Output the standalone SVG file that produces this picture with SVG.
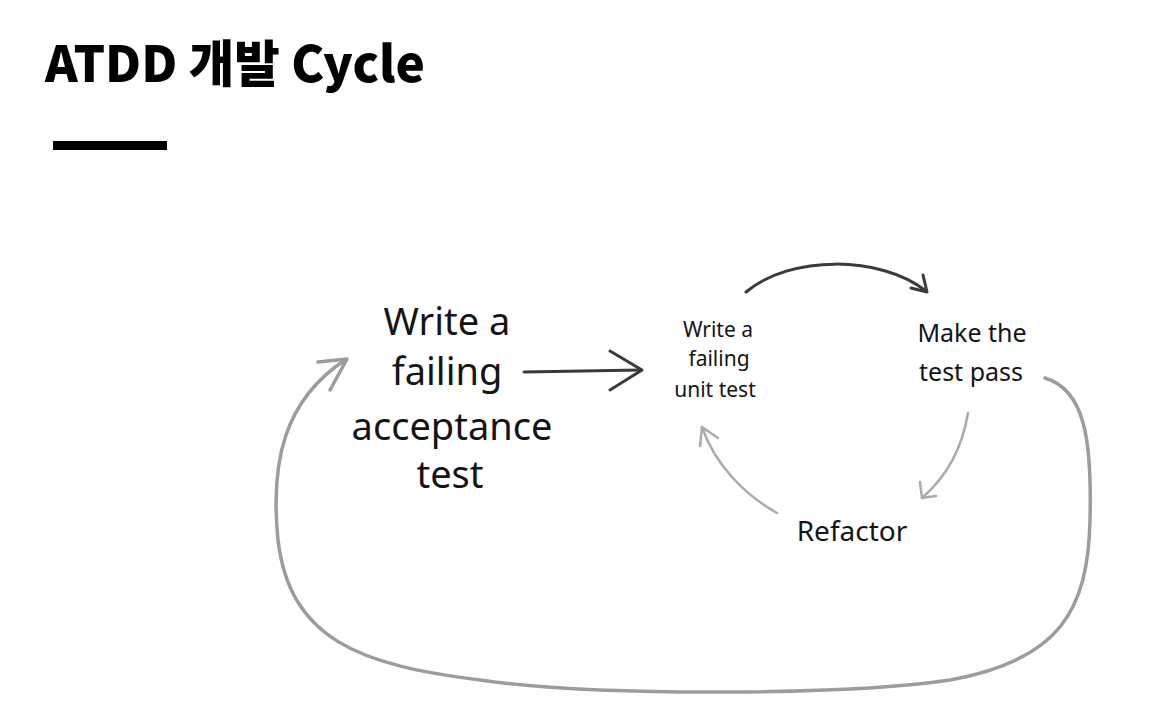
<svg xmlns="http://www.w3.org/2000/svg" width="1149" height="723" viewBox="0 0 1149 723">
<style>
.hand{font-family:"Noto Sans","Liberation Sans",sans-serif;fill:#141414;text-anchor:middle}
.title{font-family:"Noto Sans CJK KR","Noto Sans",sans-serif;font-weight:900;fill:#000}
.c{fill:none;stroke-linecap:round;stroke-linejoin:round}
.dark{stroke:#3a3a3a;stroke-width:3}
.light{stroke:#ababab;stroke-width:2.5}
.loop{stroke:#9c9c9c;stroke-width:3.5}
</style>
<rect width="1149" height="723" fill="#fff"/>
<g id="title">
<text class="title" x="45" y="82" font-size="50" textLength="380" lengthAdjust="spacingAndGlyphs">ATDD 개발 Cycle</text>
<rect x="53" y="141" width="114" height="9" fill="#000"/>
</g>
<g id="node-acceptance">
<text class="hand" x="447" y="335" font-size="38">Write a</text>
<text class="hand" x="447" y="385" font-size="38">failing</text>
<text class="hand" x="452" y="440" font-size="38">acceptance</text>
<text class="hand" x="450" y="488" font-size="38">test</text>
</g>
<g id="node-unit">
<text class="hand" x="718" y="337" font-size="21">Write a</text>
<text class="hand" x="719" y="366" font-size="21">failing</text>
<text class="hand" x="715" y="397" font-size="21">unit test</text>
</g>
<g id="node-pass">
<text class="hand" x="972" y="342" font-size="25">Make the</text>
<text class="hand" x="971" y="381" font-size="25">test pass</text>
</g>
<g id="node-refactor">
<text class="hand" x="852" y="541" font-size="28">Refactor</text>
</g>
<g id="connectors">
<path class="c dark" d="M524,372 L641,370"/>
<path class="c dark" d="M610,351 L642,370 L610,390"/>
<path class="c dark" stroke-width="2.5" d="M746,292 C790,255 880,255 926,291"/>
<path class="c dark" stroke-width="2.5" d="M911,288 L927,292 L923,275"/>
<path class="c light" d="M968,413 C962,450 945,478 922,498"/>
<path class="c light" d="M920,482 L922,498 L936,496"/>
<path class="c light" d="M777,513 C745,495 715,465 702,427"/>
<path class="c light" d="M700,446 L702,427 L718,438"/>
<path class="c loop" d="M1045,378 C1085,390 1092,440 1090,520 C1088,610 1060,660 950,680 C850,695 600,697 480,680 C360,665 290,640 278,540 C270,460 285,400 345,360"/>
<path class="c loop" d="M318,362 L347,359 L330,390"/>
</g>
</svg>
